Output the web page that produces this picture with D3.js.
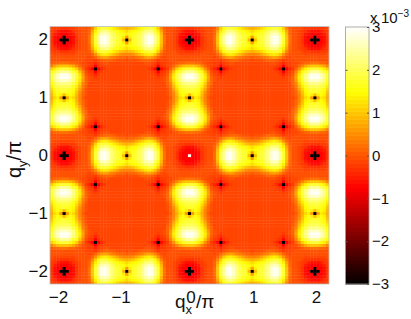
<!DOCTYPE html>
<html>
<head>
<meta charset="utf-8">
<script src="https://cdn.jsdelivr.net/npm/d3@7"></script>
<style>
  html, body { margin: 0; padding: 0; background: #fff; }
  svg { display: block; font-family: "Liberation Sans", Arial, sans-serif; }
  .domain { display: none; }
</style>
</head>
<body>
<svg width="411" height="319"></svg>
<script>
const width = 411, height = 319;
const plot = { left: 50, right: 329, top: 26.5, bottom: 284 };
const bar = { left: 345.5, right: 369, top: 27, bottom: 284 };

// values in units of 10^-3, read off the tile qx,qy = 0..1 in steps of 0.05
// the picture mirrors across the diagonal, so each row starts on the diagonal
const tileRows = [
  [-3, -3, -0.7, -0.6, -0.35, -0.1, -0.05, -0.05, 0.2, 1, 1.8, 2.4, 2.9, 3, 2.7, 2.3, 2, 1.8, 1.7, 0.9, -3],
  [-0.75, -0.7, -0.6, -0.35, -0.1, -0.05, -0.05, 0.2, 1, 1.8, 2.4, 2.9, 3, 2.7, 2.3, 2, 1.8, 1.7, 1.4, 0.6],
  [-0.65, -0.5, -0.25, -0.1, -0.05, -0.05, 0.15, 0.9, 1.6, 2.1, 2.6, 2.7, 2.5, 2.2, 1.9, 1.75, 1.65, 1.55, 1.4],
  [-0.35, -0.2, -0.1, -0.05, -0.05, 0.1, 0.7, 1.4, 1.8, 2.2, 2.3, 2.2, 1.9, 1.7, 1.55, 1.45, 1.35, 1.2],
  [-0.1, -0.05, -0.05, -0.05, 0.05, 0.4, 1.1, 1.5, 1.8, 1.8, 1.7, 1.5, 1.35, 1.2, 1, 0.9, 0.8],
  [-0.05, -0.05, -0.05, -0.05, 0.1, 0.5, 0.95, 1.25, 1.35, 1.25, 1.05, 0.9, 0.7, 0.55, 0.45, 0.45],
  [-0.05, -0.05, -0.1, -0.05, 0.15, 0.4, 0.6, 0.7, 0.6, 0.45, 0.3, 0.2, 0.15, 0.1, 0.05],
  [-0.15, -0.15, -0.15, -0.25, -0.05, 0.05, 0.15, 0.15, 0.1, 0, -0.05, -0.05, -0.05, -0.1],
  [-0.2, -0.2, -0.45, -0.2, -0.1, -0.05, -0.05, -0.1, -0.1, -0.1, -0.1, -0.1, -0.1],
  [-0.35, -0.75, -0.35, -0.2, -0.1, -0.1, -0.1, -0.1, -0.1, -0.1, -0.1, -0.1],
  [-3, -0.75, -0.45, -0.25, -0.15, -0.1, -0.1, -0.1, -0.1, -0.1, -0.1],
  [-0.35, -0.2, -0.15, -0.1, -0.1, -0.1, -0.1, -0.1, -0.1, -0.1],
  [-0.15, -0.12, -0.1, -0.1, -0.1, -0.1, -0.1, -0.1, -0.1],
  [-0.1, -0.1, -0.1, -0.1, -0.1, -0.1, -0.1, -0.1],
  [-0.1, -0.1, -0.1, -0.1, -0.1, -0.1, -0.1],
  [-0.1, -0.1, -0.1, -0.1, -0.1, -0.1],
  [-0.1, -0.1, -0.1, -0.1, -0.1],
  [-0.1, -0.1, -0.1, -0.1],
  [-0.1, -0.1, -0.1],
  [-0.1, -0.1],
  [-0.1]
];

// the cells round q = (0,0) differ from the other corners
const originCells = [
  { i: 0, j: 0, v: 3 },
  { i: 1, j: 0, v: -0.75 }, { i: -1, j: 0, v: -0.75 },
  { i: 0, j: 1, v: -0.75 }, { i: 0, j: -1, v: -0.75 }
];

const gridSteps = d3.range(-44, 45);
const qStep = 0.05;
const axisTicks = [-2, -1, 0, 1, 2];
const colorTicks = [-3, -2, -1, 0, 1, 2, 3];

const svg = d3.select("svg");

const x = d3.scaleLinear().domain([-2.225, 2.225]).range([plot.left, plot.right]);
const y = d3.scaleLinear().domain([-2.225, 2.225]).range([plot.bottom, plot.top]);
const barY = d3.scaleLinear().domain([-3, 3]).range([bar.bottom, bar.top]);

// hot colormap with 64 levels, as in the colorbar
const hot = d3.scaleLinear().domain([0, 0.375, 0.75, 1]).range(["#000", "#f00", "#ff0", "#fff"]);
const levels = d3.range(64);
const color = v => {
  const k = Math.max(0, Math.min(63, Math.floor((v + 3) / 6 * 64)));
  return hot((k + 0.5) / 64);
};

// fold a grid step into the tile 0..20
function fold(k) {
  const m = Math.abs(k) % 40;
  return m > 20 ? 40 - m : m;
}

function cellValue(i, j) {
  const special = originCells.find(d => d.i === i && d.j === j);
  if (special) return special.v;
  const a = fold(i), b = fold(j);
  const lo = Math.min(a, b), hi = Math.max(a, b);
  return tileRows[lo][hi - lo];
}

const cells = gridSteps.flatMap(j => gridSteps.map(i => ({ i, j, v: cellValue(i, j) })));

const defs = svg.append("defs");
defs.append("clipPath").attr("id", "plot-clip").append("rect")
  .attr("x", plot.left).attr("y", plot.top)
  .attr("width", plot.right - plot.left).attr("height", plot.bottom - plot.top);
defs.append("filter").attr("id", "soft")
  .append("feGaussianBlur").attr("stdDeviation", 0.4);

// heat map
svg.append("g").attr("clip-path", "url(#plot-clip)")
  .append("g").attr("filter", "url(#soft)")
  .selectAll("rect")
  .data(cells)
  .join("rect")
  .attr("x", d => x((d.i - 0.5) * qStep))
  .attr("y", d => y((d.j + 0.5) * qStep))
  .attr("width", x(qStep) - x(0) + 0.4)
  .attr("height", y(0) - y(qStep) + 0.4)
  .attr("fill", d => color(d.v));

// frame
svg.append("rect")
  .attr("x", plot.left).attr("y", plot.top)
  .attr("width", plot.right - plot.left).attr("height", plot.bottom - plot.top)
  .attr("fill", "none").attr("stroke", "#bbb").attr("stroke-width", 0.8);

// axes
const negLabel = d => (d < 0 ? "\u2212" + Math.abs(d) : String(d));

const xAxis = svg.append("g")
  .attr("transform", `translate(0,${plot.bottom})`)
  .call(d3.axisBottom(x).tickValues(axisTicks).tickSize(0).tickPadding(7).tickFormat(negLabel));
xAxis.selectAll("text")
  .attr("font-size", 17).attr("fill", "#111")
  .attr("dy", "0.71em")
  .attr("text-anchor", d => (d < 0 ? "end" : "middle"))
  .attr("x", d => (d < 0 ? 3.5 : 1));

const yAxis = svg.append("g")
  .attr("transform", `translate(${plot.left},0)`)
  .call(d3.axisLeft(y).tickValues(axisTicks).tickSize(0).tickPadding(2).tickFormat(negLabel));
yAxis.selectAll("text").attr("font-size", 17).attr("fill", "#111");

// axis labels
const xLabel = svg.append("text")
  .attr("x", 175).attr("y", 308)
  .attr("font-size", 19).attr("fill", "#111");
xLabel.append("tspan").text("q");
xLabel.append("tspan").attr("font-size", 13).attr("dy", 6).text("x");
xLabel.append("tspan").attr("dy", -6).attr("x", 196).text("/\u03c0");

const yLabel = svg.append("text")
  .attr("transform", "translate(21,178) rotate(-90)")
  .attr("font-size", 20).attr("fill", "#111");
yLabel.append("tspan").text("q");
yLabel.append("tspan").attr("font-size", 13).attr("dy", 6).text("y");
yLabel.append("tspan").attr("dy", -6).text("/\u03c0");

// colorbar
svg.append("g")
  .selectAll("rect")
  .data(levels)
  .join("rect")
  .attr("x", bar.left)
  .attr("width", bar.right - bar.left)
  .attr("y", d => barY(-3 + (d + 1) * 6 / 64))
  .attr("height", (bar.bottom - bar.top) / 64 + 0.5)
  .attr("fill", d => hot((d + 0.5) / 64));

svg.append("rect")
  .attr("x", bar.left).attr("y", bar.top)
  .attr("width", bar.right - bar.left).attr("height", bar.bottom - bar.top)
  .attr("fill", "none").attr("stroke", "#999").attr("stroke-width", 0.8);

const barAxis = svg.append("g")
  .attr("transform", `translate(${bar.right},0)`)
  .call(d3.axisRight(barY).tickValues(colorTicks).tickSize(-2).tickPadding(5).tickFormat(negLabel));
barAxis.selectAll("text").attr("font-size", 15).attr("fill", "#111").attr("x", 3)
  .attr("text-anchor", "start");
barAxis.selectAll("line").attr("stroke", "#555");
svg.append("g")
  .attr("transform", `translate(${bar.left},0)`)
  .call(d3.axisRight(barY).tickValues(colorTicks.slice(1, -1)).tickSize(2).tickFormat(""))
  .selectAll("line").attr("stroke", "#555");

// colorbar multiplier
const mult = svg.append("text").attr("x", 370).attr("y", 23).attr("font-size", 15).attr("fill", "#111");
mult.append("tspan").text("x");
mult.append("tspan").attr("x", 381).text("10");
mult.append("tspan").attr("font-size", 10).attr("dy", -6).text("\u22123");
</script>
</body>
</html>
